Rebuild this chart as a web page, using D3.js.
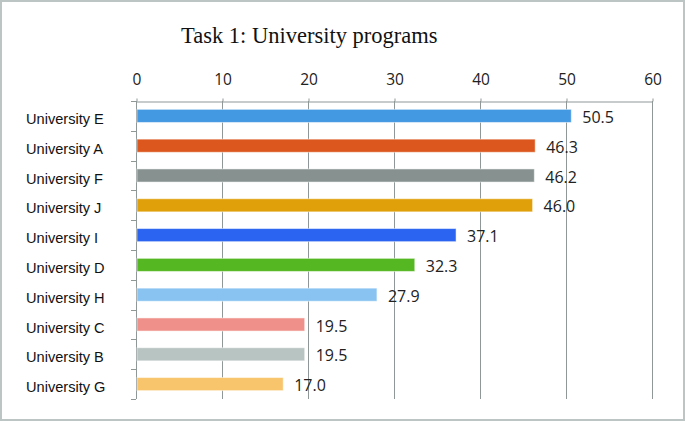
<!DOCTYPE html>
<html><head><meta charset="utf-8">
<script src="https://cdn.jsdelivr.net/npm/d3@7"></script>
<style>html,body{margin:0;padding:0;background:#fff;}svg{display:block;}</style>
</head><body>
<svg id="chart" width="685" height="421"></svg>
<script>
const categories = ["University E","University A","University F","University J","University I","University D","University H","University C","University B","University G"];
const values = [50.5, 46.3, 46.2, 46.0, 37.1, 32.3, 27.9, 19.5, 19.5, 17.0];
const colors = ["#4499e3","#dc571d","#879290","#e0a00a","#2b64f0","#55b823","#88c3f2","#ef918a","#b8c4c2","#f8c56c"];
const tickValues = [0,10,20,30,40,50,60];
const title = "Task 1: University programs";

const svg = d3.select("#chart");
const W = 685, H = 421;
const m = {left:136, right:33, top:101, bottom:22};

svg.append("rect").attr("x",1).attr("y",1).attr("width",W-2).attr("height",H-2)
  .attr("fill","#fff").attr("stroke","#bcc4c4").attr("stroke-width",2);

const x = d3.scaleLinear().domain([0,60]).range([m.left, W-m.right]);
const y = d3.scaleBand().domain(categories).range([m.top, H-m.bottom]).paddingInner(0.56).paddingOuter(0.28);
const yb = d3.scaleBand().domain(categories).range([m.top, H-m.bottom]);

// gridlines
svg.append("g").selectAll("line").data(tickValues.slice(1)).join("line")
  .attr("x1",d=>x(d)+0.5).attr("x2",d=>x(d)+0.5)
  .attr("y1",m.top).attr("y2",H-m.bottom)
  .attr("stroke","#8f9797").attr("stroke-width",1);

// top axis
const xAxis = d3.axisTop(x).tickValues(tickValues).tickSize(3).tickPadding(14).tickSizeOuter(0);
const gx = svg.append("g").attr("transform",`translate(0.5,${m.top+0.5})`).call(xAxis);
gx.select(".domain").attr("stroke","#8f9797");
gx.selectAll(".tick line").attr("stroke","#8f9797");
gx.selectAll(".tick text").attr("font-family","'Open Sans', sans-serif").attr("font-size","15.5px").attr("fill","#222");

// left axis line with ticks at band boundaries
svg.append("line").attr("x1",m.left+0.5).attr("x2",m.left+0.5).attr("y1",m.top).attr("y2",H-m.bottom)
  .attr("stroke","#8f9797");
const bounds = categories.map(c=>yb(c)).concat([yb(categories[categories.length-1])+yb.bandwidth()]);
svg.append("g").selectAll("line").data(bounds).join("line")
  .attr("x1",m.left-5).attr("x2",m.left).attr("y1",d=>Math.round(d)+0.5).attr("y2",d=>Math.round(d)+0.5)
  .attr("stroke","#8f9797");

// category labels
svg.append("g").selectAll("text").data(categories).join("text")
  .attr("x",26).attr("y",d=>yb(d)+yb.bandwidth()/2+3).attr("dy","0.35em")
  .attr("font-family","'Liberation Sans', Arial, sans-serif").attr("font-size","14.6px").attr("fill","#111")
  .text(d=>d);

// bars
svg.append("g").selectAll("rect").data(values).join("rect")
  .attr("x",x(0)+1).attr("y",(d,i)=>y(categories[i]))
  .attr("width",d=>x(d)-x(0)).attr("height",y.bandwidth())
  .attr("fill",(d,i)=>colors[i]).attr("stroke","rgba(255,255,255,0.5)").attr("stroke-width",1);

// value labels
svg.append("g").selectAll("text").data(values).join("text")
  .attr("x",d=>x(d)+12).attr("y",(d,i)=>y(categories[i])+y.bandwidth()/2+1.5).attr("dy","0.35em")
  .attr("font-family","'Open Sans', sans-serif").attr("font-size","16px").attr("fill","#222")
  .text(d=>d.toFixed(1));

// title
svg.append("text").attr("x",181).attr("y",43)
  .attr("font-family","'Liberation Serif', 'Times New Roman', serif").attr("font-size","22.5px").attr("fill","#111")
  .text(title);
</script>
</body></html>
